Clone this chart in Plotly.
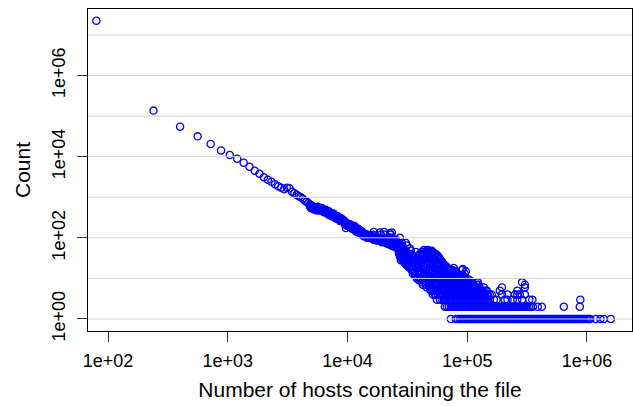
import plotly.graph_objects as go

# Leading points: file counts for the smallest host totals
HEAD_HOSTS = [80, 240, 400, 560, 720, 880, 1040, 1200, 1360, 1520, 1680, 1840, 2000,
              2160, 2320, 2480, 2640, 2800, 2960, 3120, 3280, 3440, 3600, 3760, 3920,
              4080, 4240, 4400, 4560, 4720]
HEAD_COUNTS = [22400000, 136700, 55000, 31700, 20600, 14300, 11000, 8930, 7110, 5660,
               4510, 3800, 3120, 2700, 2410, 2090, 1870, 1720, 1580, 1720, 1670, 1370,
               1260, 1150, 1060, 1000, 918, 820, 775, 711]

# Main diagonal cloud: host totals and the file counts observed near each of them
BAND_HOSTS = [4855, 4950, 5045, 5140, 5243, 5448, 5550, 5661, 5883, 6000, 6114, 6353,
              6480, 6602, 6861, 7000, 7130, 7409, 7550, 7700, 8001, 8160, 8315, 8641,
              8800, 8979, 9333, 9500, 9697, 9900, 10077, 10471, 10675, 10882, 11093,
              11308, 11527, 11751, 11979, 12212, 12449, 12690, 12936, 13187, 13443,
              13704, 13970, 14241, 14517, 14799, 15086, 15379, 15677, 15981, 16291,
              16608, 16930, 17258, 17594, 17934, 18283, 18637, 18999, 19368, 19744,
              20127, 20518, 20915, 21321, 21735, 22157, 22587, 23025, 23472, 23928,
              24392, 24865, 25348, 25840, 26341, 26853, 27373, 27910, 28446, 29000,
              29561, 30140, 30720, 31320, 31924, 32550, 33175, 33820, 34475, 35150,
              35826, 36520, 37230, 37950, 38689, 39440, 40205, 40990, 41781, 42590,
              43418, 44270, 45120, 46000, 46888, 47800, 48725, 49670, 50635, 51620,
              52619, 53640, 54681, 55740, 56824, 57930, 59051, 60200, 61365, 62550,
              63770, 65010, 66269, 67550, 68866, 70200, 71565, 72970, 74369, 75820,
              77284, 78790, 80312, 81880, 83460, 85100, 86730, 88420, 90129, 91890,
              93661, 95500, 97332, 99240, 101146, 103130, 105110, 107180, 109229,
              111390, 113510, 115730, 117958, 120280, 122581, 125000, 127384, 129880,
              132376, 134970, 137564, 140280, 142955, 145770, 148557, 154378, 160000,
              167000, 176000, 187000, 195000, 206000, 217000, 240000, 250000, 262000,
              275000, 287000, 303000, 330000, 350000, 880000]
BAND_COUNTS = [[600, 660], [540, 600], [620, 560], [560, 600], [500, 540], [560, 500],
               [520, 470], [580, 520], [520, 470], [480, 530], [540, 490], [470, 430],
               [440, 480], [490, 440], [420, 380], [450, 400], [400, 360], [380, 340],
               [350, 390], [390, 340], [330, 300], [300, 340], [340, 300], [290, 260],
               [310, 270], [260, 290], [270, 240], [240, 220], [210, 175, 240],
               [230, 200], [200, 220], [215, 185], [200, 180], [190, 170], [182, 165],
               [175, 200], [168, 188], [160, 145], [155, 140], [150, 170], [145, 160],
               [140, 130], [135, 150], [125, 145], [128, 115], [120, 110], [118, 122],
               [115, 125], [110, 100], [105, 118], [104, 112], [108, 100], [100, 106],
               [96, 112], [98, 92, 120], [100, 140, 92], [96, 90], [95, 88],
               [92, 86, 104], [90, 100], [88, 98], [84, 96, 135], [84, 92, 120],
               [86, 78], [82, 90], [92, 80, 140], [80, 92, 120], [75, 88], [74, 86],
               [72, 95], [70, 80, 104], [70, 82, 130], [66, 78, 120], [68, 100, 135],
               [62, 74, 90], [64, 78], [60, 68, 82], [60, 70, 90], [56, 66, 78],
               [55, 66], [50, 60, 42], [48, 62, 100, 35], [52, 42, 33, 28, 68],
               [55, 40, 30, 75], [46, 37, 29, 60], [50, 35, 26], [48, 38, 28, 24],
               [45, 32, 75, 22], [44, 34, 25, 65], [42, 30, 20], [38, 29, 22, 19],
               [40, 28, 18, 55], [36, 26, 19, 48], [38, 25, 16], [34, 24, 17, 13],
               [35, 22, 14], [33, 23, 15, 12], [32, 20, 12, 45], [31, 21, 14, 10],
               [30, 18, 11], [27, 19, 13, 9, 36], [28, 16, 10, 40], [34, 22, 13, 9],
               [45, 25, 14, 8], [40, 28, 17, 10, 7], [50, 35, 20, 12],
               [46, 33, 24, 14, 8], [42, 30, 18, 10, 7], [44, 34, 22, 12, 8, 6],
               [50, 38, 26, 15, 9], [48, 36, 27, 17, 11, 7], [45, 32, 22, 13, 8, 6],
               [40, 29, 19, 11, 7, 5], [48, 35, 24, 14, 9, 5],
               [44, 33, 25, 16, 10, 6, 4], [42, 30, 20, 12, 7, 5],
               [38, 27, 19, 13, 8, 6, 4], [40, 28, 18, 11, 7, 4],
               [34, 24, 17, 12, 8, 5, 3], [36, 25, 16, 10, 6, 4],
               [33, 24, 17, 11, 7, 5], [30, 22, 14, 9, 6, 4, 3],
               [28, 20, 13, 9, 6, 5, 4], [26, 18, 12, 8, 5, 4, 3],
               [24, 17, 11, 8, 6, 4], [22, 15, 10, 7, 5, 3],
               [21, 16, 11, 8, 6, 4, 3], [20, 14, 9, 6, 4, 3], [19, 13, 9, 7, 5, 4],
               [18, 12, 8, 5, 4, 3], [17, 12, 9, 6, 4], [16, 11, 7, 5, 3],
               [14, 9, 6, 4, 3], [15, 10, 7, 5, 4, 3], [16, 11, 8, 6, 4, 5],
               [18, 12, 8, 6, 4, 3], [15, 11, 9, 7, 5, 4], [14, 10, 7, 5, 3],
               [13, 9, 7, 5, 4], [13, 9, 6, 4, 3], [12, 9, 7, 5, 4], [12, 8, 6, 4, 3],
               [11, 9, 7, 5, 4], [10, 7, 5, 4, 3, 16], [17, 12, 8, 6, 5, 4],
               [11, 8, 6, 4, 3], [13, 10, 7, 5, 4], [15, 9, 6, 4, 3], [10, 7, 5, 4],
               [8, 6, 5, 3], [8, 7, 5, 4], [9, 6, 4, 3], [7, 6, 5, 4], [8, 5, 4, 3],
               [7, 6, 4], [7, 5, 4, 3], [6, 5, 4], [6, 5, 3], [7, 6, 4], [8, 5, 4, 3],
               [7, 5, 4], [6, 4, 3], [5, 4], [5, 4, 3], [5, 4], [6, 4, 3], [4, 3],
               [5, 3], [5, 4], [4, 3], [4, 3], [4], [3], [3], [5], [6, 4], [3], [4, 3],
               [3], [4], [5, 4, 3], [4], [8, 3], [7, 6, 4], [3], [3], [3]]

# Host totals seen in exactly two files
ROW2_HOSTS = [65010, 67550, 70200, 72970, 75820, 78790, 81880, 85100, 88420, 91890,
              95500, 99240, 103130, 107180, 111390, 115730, 120280, 125000, 129880,
              134970, 140280, 145770, 151480, 157430, 163620, 170030, 176700, 183540,
              190730, 198260, 206060, 214140, 222550, 231280, 240340, 249770, 259540,
              269710, 280290, 291270, 302690, 314560, 326880, 339700, 353000, 388300,
              419600, 640500, 870900]

# Host totals seen in exactly one file
ROW1_HOSTS = [72970, 80310, 83460, 86730, 89260, 91870, 94550, 97330, 100180, 103110,
              106120, 109220, 112420, 115700, 119080, 122560, 126140, 129840, 133630,
              137530, 141550, 145700, 149960, 154340, 158850, 163490, 168280, 173190,
              178250, 183460, 188840, 194350, 200030, 205870, 211880, 218090, 224460,
              231020, 237770, 244730, 251880, 259240, 266810, 274590, 282640, 290880,
              299380, 308130, 317140, 326400, 335940, 345750, 356030, 366420, 377120,
              388130, 399470, 411430, 423450, 435810, 448540, 461720, 475330, 489200,
              503500, 518200, 533400, 549000, 565000, 581500, 598600, 616100, 634100,
              652600, 671700, 691400, 711600, 732400, 753800, 776000, 798600, 821900,
              845900, 870700, 896300, 922600, 949500, 977200, 1006000, 1035400,
              1065700, 1184000, 1296000, 1381000, 1580000]

X_TICKS = [1e2, 1e3, 1e4, 1e5, 1e6]
X_TICK_TEXT = ["1e+02", "1e+03", "1e+04", "1e+05", "1e+06"]
Y_TICKS = [1, 1e2, 1e4, 1e6]
Y_TICK_TEXT = ["1e+00", "1e+02", "1e+04", "1e+06"]
GRID_LEVELS = [1, 1e1, 1e2, 1e3, 1e4, 1e5, 1e6, 1e7]

hosts = list(HEAD_HOSTS)
counts = list(HEAD_COUNTS)
for h, cs in zip(BAND_HOSTS, BAND_COUNTS):
    for c in cs:
        hosts.append(h)
        counts.append(c)
for h in ROW2_HOSTS:
    hosts.append(h)
    counts.append(2)
for h in ROW1_HOSTS:
    hosts.append(h)
    counts.append(1)

FONT = "Liberation Sans, Arial, Helvetica, sans-serif"

fig = go.Figure(
    go.Scatter(
        x=hosts,
        y=counts,
        mode="markers",
        marker=dict(symbol="circle-open", size=7.2, color="#0000FF",
                    line=dict(width=1.3, color="#0000FF")),
        hoverinfo="x+y",
    )
)

# light horizontal rules at each decade, drawn over the points
for v in GRID_LEVELS:
    fig.add_shape(type="line", xref="paper", x0=0, x1=1, yref="y", y0=v, y1=v,
                  line=dict(color="#d3d3d3", width=1), layer="above")

fig.update_xaxes(
    type="log", range=[1.833, 6.376],
    tickmode="array", tickvals=X_TICKS, ticktext=X_TICK_TEXT,
    ticks="outside", ticklen=10, tickwidth=1, tickcolor="#333",
    ticklabelstandoff=3,
    tickfont=dict(size=18, family=FONT, color="black"),
    showgrid=False, zeroline=False,
    showline=True, linecolor="black", linewidth=1, mirror=True,
    layer="above traces",
    title=dict(text="Number of hosts containing the file",
               font=dict(size=21, family=FONT, color="black"), standoff=12),
)
fig.update_yaxes(
    type="log", range=[-0.296, 7.64],
    tickmode="array", tickvals=Y_TICKS, ticktext=Y_TICK_TEXT, tickangle=-90,
    ticks="outside", ticklen=10, tickwidth=1, tickcolor="#333",
    ticklabelstandoff=5,
    tickfont=dict(size=18, family=FONT, color="black"),
    showgrid=False, zeroline=False,
    showline=True, linecolor="black", linewidth=1, mirror=True,
    layer="above traces",
    title=dict(text="Count", font=dict(size=21, family=FONT, color="black"),
               standoff=12),
)
fig.update_layout(
    width=633, height=406,
    margin=dict(l=88, r=1, t=9, b=75),
    paper_bgcolor="white", plot_bgcolor="white",
    showlegend=False,
    font=dict(family=FONT, color="black"),
)

fig.write_html("out.html")
